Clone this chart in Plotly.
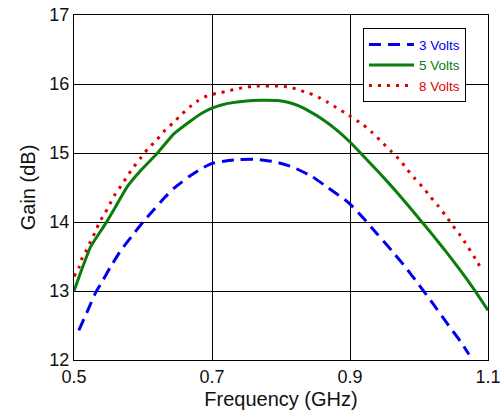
import plotly.graph_objects as go

freq_3v = [0.507, 0.52, 0.531, 0.541, 0.553, 0.568, 0.585, 0.60, 0.616, 0.63, 0.645, 0.667,
           0.684, 0.70, 0.72, 0.74, 0.76, 0.775, 0.792, 0.816, 0.845, 0.869, 0.893, 0.902,
           0.919, 0.94, 0.96, 0.98, 1.0, 1.02, 1.04, 1.06, 1.0725]
gain_3v = [12.43, 12.72, 12.97, 13.14, 13.35, 13.59, 13.81, 14.0, 14.18, 14.34, 14.49, 14.66,
           14.77, 14.85, 14.885, 14.905, 14.91, 14.895, 14.87, 14.80, 14.66, 14.49, 14.32, 14.24,
           14.06, 13.82, 13.59, 13.35, 13.09, 12.82, 12.54, 12.27, 12.08]

freq_5v = [0.50, 0.51, 0.524, 0.546, 0.563, 0.577, 0.597, 0.621, 0.645, 0.667, 0.684, 0.70,
           0.715, 0.73, 0.75, 0.77, 0.795, 0.81, 0.825, 0.84, 0.86, 0.88, 0.90, 0.92, 0.94,
           0.96, 0.98, 1.0, 1.02, 1.04, 1.06, 1.08, 1.10]
gain_5v = [13.0, 13.28, 13.64, 13.98, 14.27, 14.51, 14.75, 15.0, 15.28, 15.45, 15.57, 15.65,
           15.70, 15.73, 15.755, 15.765, 15.76, 15.735, 15.685, 15.61, 15.49, 15.34, 15.16, 14.95,
           14.74, 14.52, 14.29, 14.05, 13.81, 13.56, 13.30, 13.02, 12.72]

freq_8v = [0.50, 0.507, 0.511, 0.518, 0.524, 0.531, 0.537, 0.545, 0.552, 0.559, 0.568, 0.577,
           0.586, 0.596, 0.607, 0.62, 0.63, 0.644, 0.656, 0.668, 0.68, 0.693, 0.707, 0.72,
           0.735, 0.748, 0.76, 0.80, 0.815, 0.827, 0.84, 0.854, 0.867, 0.88, 0.893, 0.919,
           0.933, 0.946, 0.959, 0.973, 0.983, 0.995, 1.006, 1.017, 1.028, 1.038, 1.048, 1.058,
           1.067, 1.084, 1.092]
gain_8v = [13.21, 13.34, 13.46, 13.59, 13.72, 13.86, 14.0, 14.13, 14.26, 14.39, 14.52, 14.66,
           14.79, 14.92, 15.06, 15.19, 15.31, 15.44, 15.56, 15.67, 15.76, 15.83, 15.865, 15.89,
           15.93, 15.95, 15.97, 15.97, 15.95, 15.91, 15.87, 15.81, 15.74, 15.66, 15.58, 15.41,
           15.29, 15.16, 15.03, 14.89, 14.76, 14.62, 14.50, 14.36, 14.23, 14.10, 13.96, 13.83,
           13.70, 13.43, 13.29]

x_ticks = [0.5, 0.7, 0.9, 1.1]
x_tick_labels = ["0.5", "0.7", "0.9", "1.1"]
y_ticks = [12, 13, 14, 15, 16, 17]

BLUE = "#0000ee"
GREEN = "#0a7d0a"
RED = "#e00000"

fig = go.Figure()
fig.add_trace(go.Scatter(x=freq_3v, y=gain_3v, mode="lines",
                         name=f"<span style='color:{BLUE}'>3 Volts</span>",
                         line=dict(color=BLUE, width=3, dash="12px,7px",
                                   shape="spline", smoothing=0.4)))
fig.add_trace(go.Scatter(x=freq_5v, y=gain_5v, mode="lines",
                         name=f"<span style='color:{GREEN}'>5 Volts</span>",
                         line=dict(color=GREEN, width=3, dash="solid",
                                   shape="spline", smoothing=0.4)))
fig.add_trace(go.Scatter(x=freq_8v, y=gain_8v, mode="lines",
                         name=f"<span style='color:{RED}'>8 Volts</span>",
                         line=dict(color=RED, width=3, dash="3px,6px",
                                   shape="spline", smoothing=0.4)))

axis_common = dict(
    showline=True, linecolor="black", linewidth=1, mirror="ticks",
    ticks="inside", ticklen=4, tickcolor="black",
    showgrid=True, gridcolor="black", gridwidth=1, zeroline=False,
    automargin=False, ticklabeloverflow="allow",
    tickfont=dict(family="Liberation Sans, Arial", size=18, color="#111"),
)

fig.update_layout(
    width=500, height=419,
    margin=dict(l=74, r=12, t=15, b=59),
    paper_bgcolor="white", plot_bgcolor="white",
    font=dict(family="Liberation Sans, Arial", color="#111"),
    xaxis=dict(range=[0.5, 1.1], tickvals=x_ticks, ticktext=x_tick_labels,
               title=dict(text="Frequency (GHz)", font=dict(size=20), standoff=6),
               **axis_common),
    yaxis=dict(range=[12, 17], tickvals=y_ticks,
               title=dict(text="Gain (dB)", font=dict(size=20), standoff=8),
               **axis_common),
    legend=dict(x=0.698, y=0.962, xanchor="left", yanchor="top",
                bgcolor="white", bordercolor="black", borderwidth=1,
                font=dict(size=13.5), tracegroupgap=0, itemwidth=45,
                traceorder="normal"),
    showlegend=True,
)

fig.write_html("out.html", config={"displayModeBar": False},
               post_script="document.body.style.margin='0';document.body.style.overflow='hidden';")
